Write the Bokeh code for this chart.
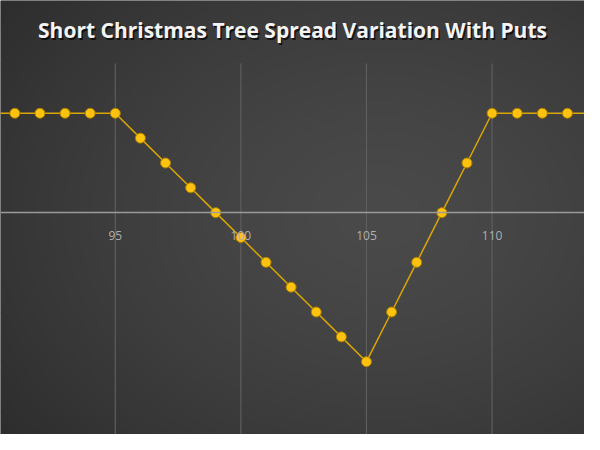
import numpy as np
from bokeh.plotting import figure
from bokeh.models import Label, FixedTicker
from bokeh.embed import file_html
from bokeh.resources import INLINE

# underlying price at expiry and the spread's value there
strikes = [90, 91, 92, 93, 94, 95, 96, 97, 98, 99, 100, 101, 102,
           103, 104, 105, 106, 107, 108, 109, 110, 111, 112, 113, 114]
payoff = [4, 4, 4, 4, 4, 4, 3, 2, 1, 0, -1, -2, -3,
          -4, -5, -6, -4, -2, 0, 2, 4, 4, 4, 4, 4]
x_ticks = [95, 100, 105, 110]
y_grid = [-8, -6, -4, -2, 0, 2, 4, 6]
title_text = "Short Christmas Tree Spread Variation With Puts"

x_lo, x_hi = 90.43, 113.68
y_lo, y_hi = -8.93, 8.54

W, H = 584, 434

p = figure(width=W, height=H, x_range=(x_lo, x_hi), y_range=(y_lo, y_hi),
           output_backend="svg", toolbar_location=None, min_border=0,
           background_fill_color="#3c3c3c", border_fill_color="#3c3c3c",
           outline_line_color=None)

# dark radial background
nx, ny = 300, 225
u = np.linspace(0, 1, nx)[None, :]
v = np.linspace(0, 1, ny)[:, None]
r = np.sqrt(((u - 0.65) / 0.85) ** 2 + ((v - 0.5) / 0.85) ** 2)
r = np.clip(r, 0, 1) ** 1.4
inner, outer = 74, 44
g = (inner + (outer - inner) * r).astype(np.uint32)
img = (255 << 24) | (g << 16) | (g << 8) | g
p.image_rgba(image=[img.astype(np.uint32)], x=x_lo, y=y_lo,
             dw=x_hi - x_lo, dh=y_hi - y_lo)

# grid
p.xgrid.visible = False
p.ygrid.ticker = FixedTicker(ticks=y_grid)
p.ygrid.grid_line_color = "#5e5e5e"
p.ygrid.grid_line_width = 1.2
p.segment(x0=x_ticks, x1=x_ticks, y0=[y_lo] * len(x_ticks),
          y1=[max(y_grid)] * len(x_ticks),
          line_color="#5e5e5e", line_width=1.2)

# axes
p.yaxis.visible = False
p.xaxis.fixed_location = 0
p.xaxis.ticker = FixedTicker(ticks=x_ticks)
p.xaxis.axis_line_color = "#9a9a9a"
p.xaxis.axis_line_width = 1.5
p.xaxis.major_tick_line_color = None
p.xaxis.minor_tick_line_color = None
p.xaxis.major_label_text_color = "#b0b0b0"
p.xaxis.major_label_text_font = "Open Sans"
p.xaxis.major_label_text_font_size = "12px"
p.xaxis.major_label_standoff = 12

# payoff line
p.line(strikes, payoff, line_color="#dca600", line_width=1.5)
p.scatter(strikes, payoff, size=10, fill_color="#ffc20e",
          line_color="#a87d00", line_width=1)

# title with a soft shadow
shadow = Label(x=W / 2 + 1.5, y=H - 29 - 2, x_units="screen", y_units="screen",
               text=title_text, text_align="center", text_baseline="middle",
               text_font="Open Sans", text_font_style="bold",
               text_font_size="21px", text_color="black", text_alpha=0.7)
title = Label(x=W / 2, y=H - 29, x_units="screen", y_units="screen",
              text=title_text, text_align="center", text_baseline="middle",
              text_font="Open Sans", text_font_style="bold",
              text_font_size="21px", text_color="#f4f4f4")
p.add_layout(shadow)
p.add_layout(title)

open("out.html", "w").write(file_html(p, INLINE))
